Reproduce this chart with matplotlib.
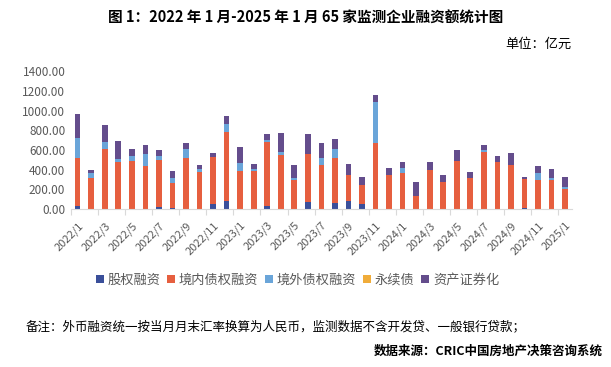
import numpy as np
import matplotlib
matplotlib.use("Agg")
import matplotlib.pyplot as plt
from matplotlib.patches import Patch

plt.rcParams['font.family'] = ['Noto Sans CJK SC', 'DejaVu Sans']

# 月份：2022/1 - 2025/1
months = [f"{y}/{m}" for y in (2022, 2023, 2024) for m in range(1, 13)] + ["2025/1"]

# 各类融资额（亿元）
equity = [34, 0, 0, 0, 0, 0, 20, 14, 0, 0, 51, 81,
          0, 0, 31, 0, 0, 71, 0, 61, 81, 51, 0, 0,
          0, 0, 0, 0, 0, 0, 0, 0, 0, 10, 0, 0, 0]
domestic = [488, 319, 610, 478, 488, 437, 478, 251, 519, 376, 478, 705,
            386, 386, 651, 549, 295, 488, 447, 458, 264, 193, 671, 346,
            366, 132, 397, 275, 488, 315, 580, 478, 447, 295, 295, 295, 203]
overseas = [200, 51, 71, 31, 51, 122, 37, 54, 92, 31, 0, 78,
            81, 20, 20, 31, 20, 0, 71, 92, 0, 0, 417, 0,
            51, 0, 0, 0, 0, 0, 20, 0, 0, 0, 71, 20, 20]
perpetual = [0] * 37
abs_sec = [244, 27, 173, 183, 71, 92, 64, 68, 61, 41, 41, 81,
           163, 51, 61, 193, 132, 203, 153, 102, 112, 81, 71, 71,
           61, 142, 81, 71, 112, 61, 51, 61, 122, 20, 71, 92, 102]

series = [
    ("股权融资", equity, "#3A4F9A"),
    ("境内债权融资", domestic, "#E65F3F"),
    ("境外债权融资", overseas, "#6AA5D9"),
    ("永续债", perpetual, "#F0AC3A"),
    ("资产证券化", abs_sec, "#644D8C"),
]

fig = plt.figure(figsize=(6.11, 3.67), dpi=100)
ax = fig.add_axes([0.116, 0.4305, 0.82, 0.3752])

x = np.arange(len(months))
bottom = np.zeros(len(months))
for name, vals, color in series:
    vals = np.array(vals, dtype=float)
    ax.bar(x, vals, width=0.42, bottom=bottom, color=color, linewidth=0)
    bottom += vals

ax.set_xlim(-0.5, len(months) - 0.5)
ax.set_ylim(0, 1400)
ax.set_yticks(np.arange(0, 1401, 200))
ax.set_yticklabels([f"{v:.2f}" for v in np.arange(0, 1401, 200)],
                   fontsize=8.5, color="#595959")

ax.set_xticks(x[::2])
ax.set_xticklabels(months[::2], rotation=45, ha="right", va="top",
                   rotation_mode="anchor", fontsize=8, color="#595959")
ax.set_xticks(np.arange(-0.5, len(months), 2), minor=True)
ax.tick_params(axis="x", which="major", length=0, pad=8)
ax.tick_params(axis="x", which="minor", length=4, color="#D9D9D9", width=0.8)
ax.tick_params(axis="y", length=0, pad=4)

for s in ("top", "right", "left"):
    ax.spines[s].set_visible(False)
ax.spines["bottom"].set_color("#D9D9D9")
ax.spines["bottom"].set_linewidth(0.8)

handles = [Patch(facecolor=c, edgecolor="none", label=n) for n, _, c in series]
fig.legend(handles=handles, loc="center", bbox_to_anchor=(0.487, 0.237),
           ncol=5, frameon=False, fontsize=9.5, handlelength=0.6,
           handleheight=0.6, handletextpad=0.3, columnspacing=0.5,
           labelcolor="#595959")

fig.text(0.5, 0.953, "图 1：2022 年 1 月-2025 年 1 月 65 家监测企业融资额统计图",
         ha="center", va="center", fontsize=10.5, fontweight="bold")
fig.text(0.935, 0.878, "单位：亿元", ha="right", va="center", fontsize=9.5)
fig.text(0.042, 0.11, "备注：外币融资统一按当月月末汇率换算为人民币，监测数据不含开发贷、一般银行贷款；",
         ha="left", va="center", fontsize=9)
fig.text(0.987, 0.044, "数据来源：CRIC中国房地产决策咨询系统",
         ha="right", va="center", fontsize=9, fontweight="bold")

fig.savefig("out.png", dpi=100)
